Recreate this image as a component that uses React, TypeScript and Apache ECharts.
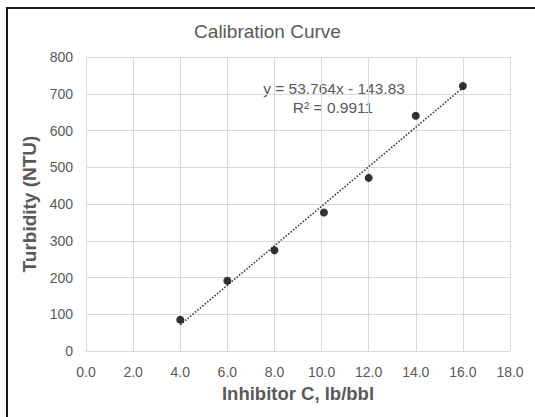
import React, { useEffect, useRef } from "react";
import * as echarts from "echarts";

// Measured samples: inhibitor dose (lb/bbl) vs. turbidity (NTU)
const inhibitorDose = [4, 6, 8, 10.1, 12, 14, 16];
const turbidity = [85, 191, 274, 377, 471, 640, 721];

// Linear trendline as reported on the chart
const slope = 53.764;
const intercept = -143.83;
const rSquared = 0.9911;
const trendRange = [4, 16];

const xTicks = ["0.0", "2.0", "4.0", "6.0", "8.0", "10.0", "12.0", "14.0", "16.0", "18.0"];

const FONT = '"Liberation Sans", Arial, sans-serif';
const TEXT = "#595959";
const GRID = "#d9d9d9";

export default function App() {
  const ref = useRef<HTMLDivElement>(null);

  useEffect(() => {
    if (!ref.current) return;
    const chart = echarts.init(ref.current, null, { renderer: "svg" });

    const points = inhibitorDose.map((x, i) => [x, turbidity[i]]);
    const trend = trendRange.map((x) => [x, slope * x + intercept]);

    chart.setOption({
      animation: false,
      backgroundColor: "#ffffff",
      textStyle: { fontFamily: FONT },
      title: {
        text: "Calibration Curve",
        left: "center",
        top: 17,
        textStyle: { fontFamily: FONT, fontSize: 19, fontWeight: "normal", color: TEXT },
      },
      grid: { left: 86, right: 25, top: 57, bottom: 66, containLabel: false },
      xAxis: {
        type: "value",
        min: 0,
        max: 18,
        interval: 2,
        name: "Inhibitor C, lb/bbl",
        nameLocation: "middle",
        nameGap: 33,
        nameTextStyle: { fontFamily: FONT, fontSize: 18.5, fontWeight: "bold", color: TEXT },
        axisLine: { show: true, lineStyle: { color: GRID, width: 1 } },
        axisTick: { show: false },
        axisLabel: {
          color: TEXT,
          fontSize: 14,
          margin: 14,
          fontFamily: FONT,
          formatter: (v: number) => xTicks[Math.round(v / 2)] ?? v.toFixed(1),
        },
        splitLine: { show: true, lineStyle: { color: GRID, width: 1 } },
      },
      yAxis: {
        type: "value",
        min: 0,
        max: 800,
        interval: 100,
        name: "Turbidity (NTU)",
        nameLocation: "middle",
        nameGap: 42,
        nameTextStyle: { fontFamily: FONT, fontSize: 19, fontWeight: "bold", color: TEXT },
        axisLine: { show: false },
        axisTick: { show: false },
        axisLabel: { color: TEXT, fontSize: 14, margin: 13, fontFamily: FONT },
        splitLine: { show: true, lineStyle: { color: GRID, width: 1 } },
      },
      series: [
        {
          type: "line",
          data: trend,
          showSymbol: false,
          symbol: "none",
          lineStyle: { type: "dotted", color: "#404040", width: 1.6 },
          z: 2,
        },
        {
          type: "scatter",
          data: points,
          symbol: "circle",
          symbolSize: 8,
          itemStyle: { color: "#000000" },
          z: 3,
        },
      ],
      graphic: [
        {
          type: "line",
          shape: { x1: 7, y1: 8, x2: 7, y2: 417 },
          style: { stroke: "#1a1a1a", lineWidth: 2 },
          silent: true,
        },
        {
          type: "line",
          shape: { x1: 6, y1: 8, x2: 535, y2: 8 },
          style: { stroke: "#1a1a1a", lineWidth: 2 },
          silent: true,
        },
        {
          type: "text",
          x: 334,
          y: 88,
          style: {
            text: `y = ${slope}x - ${Math.abs(intercept)}`,
            fill: TEXT,
            font: `15.5px ${FONT}`,
            align: "center",
            verticalAlign: "middle",
          },
        },
        {
          type: "text",
          x: 333,
          y: 107,
          style: {
            text: `R² = ${rSquared}`,
            fill: TEXT,
            font: `15.5px ${FONT}`,
            align: "center",
            verticalAlign: "middle",
          },
        },
      ],
    });

    return () => chart.dispose();
  }, []);

  return (
    <div
      ref={ref}
      style={{ position: "absolute", left: 0, top: 0, width: 535, height: 417 }}
    />
  );
}
